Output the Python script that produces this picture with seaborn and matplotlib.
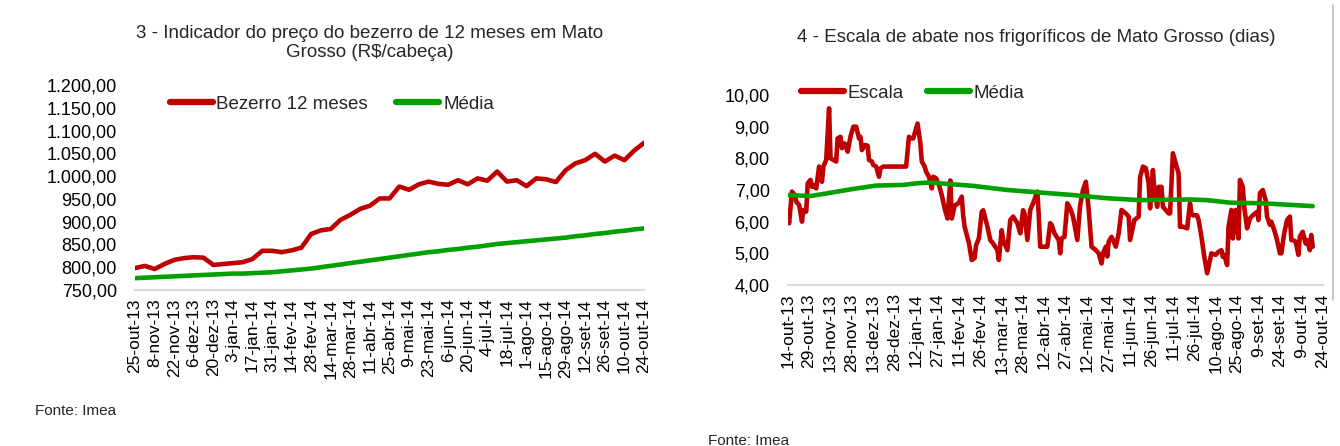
import matplotlib
matplotlib.use("Agg")
import matplotlib.pyplot as plt
import matplotlib.ticker as mticker
from matplotlib.lines import Line2D
import numpy as np
import pandas as pd
import seaborn as sns

# ---------------- data ----------------
# Chart 3: weekly calf price (R$/cabeça), from 25-out-13 to 24-out-14
bezerro_inicio = "2013-10-25"
bezerro_12m = [798, 803, 796, 807, 816, 820, 822, 821, 805, 807, 809, 811, 818,
               836, 836, 833, 837, 843, 873, 881, 884, 904, 915, 928, 935, 951,
               951, 977, 970, 982, 988, 983, 981, 991, 982, 995, 990, 1010, 988,
               991, 978, 995, 993, 987, 1013, 1028, 1035, 1049, 1032, 1045, 1035,
               1056, 1073]
bezerro_media = [776, 777, 778, 779, 780, 781, 782, 783, 784, 785, 786, 786, 787,
                 788, 789, 791, 793, 795, 797, 800, 803, 806, 809, 812, 815, 818,
                 821, 824, 827, 830, 833, 835, 838, 840, 843, 845, 848, 851, 853,
                 855, 857, 859, 861, 863, 865, 868, 870, 873, 875, 878, 880, 883,
                 885]
ticks_bezerro = ["25-out-13", "8-nov-13", "22-nov-13", "6-dez-13", "20-dez-13",
                 "3-jan-14", "17-jan-14", "31-jan-14", "14-fev-14", "28-fev-14",
                 "14-mar-14", "28-mar-14", "11-abr-14", "25-abr-14", "9-mai-14",
                 "23-mai-14", "6-jun-14", "20-jun-14", "4-jul-14", "18-jul-14",
                 "1-ago-14", "15-ago-14", "29-ago-14", "12-set-14", "26-set-14",
                 "10-out-14", "24-out-14"]

# Chart 4: slaughter scale (days); day offsets from 14-out-13
escala_inicio = "2013-10-14"
escala_dias = [0, 1, 3, 5, 6, 8, 10, 11, 13, 14, 16, 17, 18, 20, 22, 23, 24, 25, 27,
               29, 30, 32, 34, 35, 37, 38, 40, 42, 44, 46, 48, 50, 51, 52, 54, 56,
               57, 59, 60, 62, 64, 65, 67, 83, 85, 86, 88, 90, 91, 93, 94, 96, 97,
               99, 101, 102, 104, 106, 108, 110, 112, 114, 115, 117, 120, 122, 123,
               124, 127, 129, 131, 132, 134, 136, 137, 140, 142, 144, 147, 148, 150,
               151, 154, 156, 158, 161, 163, 165, 166, 168, 170, 172, 175, 176, 177,
               179, 182, 184, 185, 187, 190, 191, 192, 194, 196, 198, 200, 203, 205,
               207, 209, 211, 213, 216, 218, 220, 221, 223, 224, 225, 227, 228, 230,
               232, 234, 237, 239, 240, 242, 243, 246, 247, 249, 251, 253, 254, 256,
               257, 259, 260, 262, 263, 265, 267, 268, 270, 272, 274, 275, 277, 280,
               282, 283, 284, 287, 288, 290, 292, 294, 296, 297, 300, 302, 304, 305,
               306, 308, 309, 311, 312, 314, 316, 317, 319, 320, 322, 324, 326, 329,
               330, 331, 333, 335, 336, 338, 339, 341, 343, 345, 346, 348, 350, 352,
               353, 354, 356, 358, 359, 361, 363, 364, 366, 367, 368]
escala_valores = [6.21, 5.95, 6.95, 6.84, 6.63, 6.53, 6.00, 6.37, 6.32, 7.21, 7.32,
                  7.10, 7.16, 7.05, 7.74, 7.63, 7.26, 7.74, 7.95, 9.58, 8.00, 7.95,
                  7.90, 8.63, 8.68, 8.32, 8.47, 8.21, 8.68, 9.00, 9.00, 8.63, 8.68,
                  8.26, 8.42, 8.40, 7.95, 7.90, 7.79, 7.74, 7.42, 7.68, 7.74, 7.74,
                  8.68, 8.63, 8.63, 8.95, 9.10, 8.47, 7.90, 7.74, 7.58, 7.42, 7.05,
                  7.42, 7.37, 7.16, 6.84, 6.42, 6.10, 7.30, 6.10, 6.50, 6.60, 6.79,
                  6.20, 5.84, 5.33, 4.79, 4.85, 5.25, 5.47, 6.31, 6.36, 5.84, 5.42,
                  5.31, 5.10, 4.79, 5.73, 5.42, 5.10, 6.05, 6.16, 5.95, 5.63, 6.36,
                  6.26, 5.42, 6.37, 6.58, 6.95, 6.16, 5.21, 5.21, 5.21, 5.95, 5.90,
                  5.63, 5.42, 5.00, 5.47, 5.52, 6.58, 6.42, 6.16, 5.42, 6.52, 7.00,
                  7.26, 6.37, 5.21, 5.10, 5.00, 4.68, 5.00, 5.21, 4.90, 5.37, 5.52,
                  5.42, 5.21, 5.63, 6.37, 6.26, 6.16, 5.42, 5.84, 6.05, 6.16, 7.40,
                  7.74, 7.69, 7.21, 6.42, 7.63, 7.00, 6.47, 7.10, 7.10, 6.47, 6.37,
                  6.26, 6.26, 8.16, 7.84, 7.52, 5.84, 5.84, 5.79, 6.58, 6.26, 6.20,
                  6.20, 6.05, 5.53, 4.89, 4.37, 4.79, 5.00, 4.95, 5.05, 5.10, 4.89,
                  4.95, 4.63, 5.84, 6.37, 5.47, 6.37, 5.47, 7.32, 7.10, 6.47, 5.79,
                  6.10, 6.20, 6.31, 6.05, 6.90, 7.00, 6.68, 6.16, 5.90, 6.00, 5.74,
                  5.42, 5.00, 5.00, 5.63, 6.05, 6.16, 5.42, 5.42, 5.37, 4.95, 5.53,
                  5.68, 5.31, 5.42, 5.10, 5.58, 5.21]
media_dias = [0, 16, 27, 44, 62, 81, 90, 100, 107, 130, 154, 177, 200, 224, 247,
              282, 294, 310, 333, 368]
media_valores = [6.84, 6.81, 6.89, 7.02, 7.14, 7.16, 7.21, 7.24, 7.21, 7.13, 7.00,
                 6.92, 6.84, 6.74, 6.68, 6.70, 6.68, 6.60, 6.58, 6.49]
ticks_escala = ["14-out-13", "29-out-13", "13-nov-13", "28-nov-13", "13-dez-13",
                "28-dez-13", "12-jan-14", "27-jan-14", "11-fev-14", "26-fev-14",
                "13-mar-14", "28-mar-14", "12-abr-14", "27-abr-14", "12-mai-14",
                "27-mai-14", "11-jun-14", "26-jun-14", "11-jul-14", "26-jul-14",
                "10-ago-14", "25-ago-14", "9-set-14", "24-set-14", "9-out-14",
                "24-out-14"]

# ---------------- style ----------------
sns.set_theme(style="white")
plt.rcParams["font.family"] = ["Liberation Sans", "DejaVu Sans"]

RED = "#C00000"
GREEN = "#00A000"
AXIS_GRAY = "#D9D9D9"

fig = plt.figure(figsize=(13.4, 4.46), dpi=100)
W, H = 1340, 446


def ax_rect(x0, x1, ytop, ybot):
    return [x0 / W, 1 - ybot / H, (x1 - x0) / W, (ybot - ytop) / H]


def br_fmt(v, pos):
    s = f"{v:,.2f}"
    return s.replace(",", "X").replace(".", ",").replace("X", ".")


def style_axis(ax):
    for s in ["left", "top", "right"]:
        ax.spines[s].set_visible(False)
    ax.spines["bottom"].set_color(AXIS_GRAY)
    ax.spines["bottom"].set_linewidth(1.5)
    ax.tick_params(axis="y", length=0, pad=13, labelsize=13, colors="black")
    ax.tick_params(axis="x", length=4, width=1.2, color=AXIS_GRAY, pad=2,
                   labelsize=12.5, labelrotation=90, labelcolor="black")
    ax.yaxis.set_major_formatter(mticker.FuncFormatter(br_fmt))
    ax.set_xlabel("")
    ax.set_ylabel("")
    ax.grid(False)


# ---------------- chart 3 ----------------
datas_b = pd.date_range(bezerro_inicio, periods=len(bezerro_12m), freq="7D")
df_b = pd.DataFrame({"data": list(datas_b) * 2,
                     "valor": bezerro_12m + bezerro_media,
                     "serie": ["Bezerro 12 meses"] * len(bezerro_12m)
                     + ["Média"] * len(bezerro_media)})

ax1 = fig.add_axes(ax_rect(135, 644, 85, 290))
sns.lineplot(data=df_b, x="data", y="valor", hue="serie",
             palette={"Bezerro 12 meses": RED, "Média": GREEN},
             linewidth=3.3, ax=ax1, legend=False)
ax1.set_ylim(750, 1200)
ax1.set_yticks(np.arange(750, 1201, 50))
ax1.set_xlim(datas_b[0], datas_b[-1])
tick_pos_b = pd.date_range(bezerro_inicio, periods=len(ticks_bezerro), freq="14D")
ax1.set_xticks(tick_pos_b)
ax1.set_xticklabels(ticks_bezerro)
style_axis(ax1)
h1 = [Line2D([], [], color=RED, lw=4.5, solid_capstyle="round"),
      Line2D([], [], color=GREEN, lw=4.5, solid_capstyle="round")]
ax1.legend(h1, ["Bezerro 12 meses", "Média"], ncol=2, frameon=False,
           loc="center left", bbox_to_anchor=(0.068, 0.905), fontsize=13.5,
           handlelength=2.3, handletextpad=0.2, columnspacing=1.5,
           borderaxespad=0, borderpad=0)
fig.text(370 / W, 1 - 43 / H,
         "3 - Indicador do preço do bezerro de 12 meses em Mato\nGrosso (R$/cabeça)",
         ha="center", va="center", fontsize=13.5, linespacing=1.2)
fig.text(35 / W, 1 - 411 / H, "Fonte: Imea", ha="left", va="center", fontsize=11)

# ---------------- chart 4 ----------------
d0 = pd.Timestamp(escala_inicio)
datas_e = [d0 + pd.Timedelta(days=int(d)) for d in escala_dias]
datas_m = [d0 + pd.Timedelta(days=int(d)) for d in media_dias]
df_e = pd.DataFrame({"data": datas_e, "valor": escala_valores})
df_m = pd.DataFrame({"data": datas_m, "valor": media_valores})

ax2 = fig.add_axes(ax_rect(787.7, 1322.7, 95, 285))
sns.lineplot(data=df_e, x="data", y="valor", color=RED, linewidth=3.3, ax=ax2)
sns.lineplot(data=df_m, x="data", y="valor", color=GREEN, linewidth=3.3, ax=ax2)
ax2.set_ylim(4, 10)
ax2.set_yticks(np.arange(4, 10.01, 1))
tick_pos_e = pd.date_range(escala_inicio, periods=len(ticks_escala), freq="15D")
ax2.set_xlim(tick_pos_e[0], tick_pos_e[-1])
ax2.set_xticks(tick_pos_e)
ax2.set_xticklabels(ticks_escala)
style_axis(ax2)
h2 = [Line2D([], [], color=RED, lw=4.5, solid_capstyle="round"),
      Line2D([], [], color=GREEN, lw=4.5, solid_capstyle="round")]
ax2.legend(h2, ["Escala", "Média"], ncol=2, frameon=False,
           loc="center left", bbox_to_anchor=(0.025, 1.01), fontsize=13.5,
           handlelength=2.3, handletextpad=0.2, columnspacing=1.2,
           borderaxespad=0, borderpad=0)
fig.text(1036 / W, 1 - 37 / H,
         "4 - Escala de abate nos frigoríficos de Mato Grosso (dias)",
         ha="center", va="center", fontsize=13.5)
fig.text(708 / W, 1 - 441 / H, "Fonte: Imea", ha="left", va="center", fontsize=11)

# right border line
fig.add_artist(Line2D([1333 / W, 1333 / W], [1 - 5 / H, 1 - 300 / H],
                      transform=fig.transFigure, color="#BFBFBF", lw=1.2))

fig.savefig("out.png", dpi=100, facecolor="white")
